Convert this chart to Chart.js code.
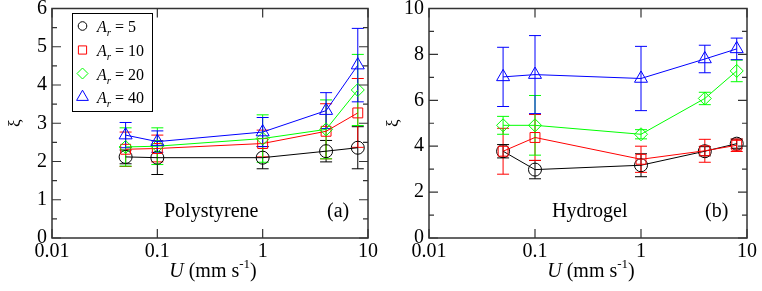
<!DOCTYPE html>
<html>
<head>
<meta charset="utf-8">
<script src="https://cdn.jsdelivr.net/npm/chart.js@4"></script>
<style>
  html, body { margin: 0; padding: 0; background: #fff; }
  #wrap { position: relative; width: 762px; height: 291px; }
  canvas { position: absolute; top: 0; }
</style>
</head>
<body>
<div id="wrap">
  <canvas id="panelA" width="381" height="291" style="left:0"></canvas>
  <canvas id="panelB" width="381" height="291" style="left:381px"></canvas>
</div>
<script>
// pulling speed U (mm/s), same for every series
const speeds = [0.05, 0.1, 1, 4, 8];
const aspectRatios = [5, 10, 20, 40];
const xTickValues = [0.01, 0.1, 1, 10];
const xTickLabels = ['0.01', '0.1', '1', '10'];
const polyTicksY = [0, 1, 2, 3, 4, 5, 6];
const hydroTicksY = [0, 2, 4, 6, 8, 10];

// polystyrene, one row per A_r (5, 10, 20, 40)
const polyXi = [
  [2.12, 2.10, 2.10, 2.27, 2.36],
  [2.32, 2.34, 2.47, 2.79, 3.27],
  [2.38, 2.40, 2.60, 2.84, 3.87],
  [2.69, 2.52, 2.77, 3.33, 4.52]
];
const polyErr = [
  [0.18, 0.44, 0.29, 0.28, 0.55],
  [0.45, 0.35, 0.35, 0.72, 0.90],
  [0.50, 0.48, 0.62, 0.77, 0.93],
  [0.33, 0.28, 0.38, 0.47, 0.96]
];

// hydrogel
const hydroXi = [
  [3.78, 2.98, 3.17, 3.78, 4.11],
  [3.78, 4.38, 3.43, 3.80, 4.04],
  [4.91, 4.91, 4.52, 6.08, 7.28],
  [7.02, 7.12, 6.95, 7.80, 8.24]
];
const hydroErr = [
  [0.29, 0.40, 0.50, 0.20, 0.20],
  [1.00, 1.00, 0.57, 0.50, 0.27],
  [0.39, 1.30, 0.20, 0.27, 0.47],
  [1.29, 1.70, 1.40, 0.60, 0.47]
];

const colors = ['#000000', '#ff0000', '#00ff00', '#0000ff'];
const markers = ['circle', 'rect', 'rectRot', 'triangle'];
const markerSize = [6.5, 7, 6.5, 7.5];
const legendSize = [4.3, 5.8, 5.5, 6.8];

const SERIF = '"Liberation Serif", "DejaVu Serif", serif';

function point(ctx, style, r, x, y) {
  ctx.fillStyle = 'rgba(0,0,0,0)';
  if (Chart.helpers && Chart.helpers.drawPoint) {
    Chart.helpers.drawPoint(ctx, {pointStyle: style, radius: r, rotation: 0, borderWidth: 1}, x, y);
  } else {
    ctx.beginPath();
    ctx.arc(x, y, r, 0, Math.PI * 2);
    ctx.stroke();
  }
}

const decor = {
  id: 'decor',
  beforeDatasetsDraw(chart, args, o) {
    const {ctx, scales: {x, y}} = chart;
    ctx.save();
    ctx.lineWidth = 1;
    o.err.forEach((row, i) => {
      ctx.strokeStyle = colors[i];
      ctx.beginPath();
      row.forEach((e, j) => {
        const px = x.getPixelForValue(speeds[j]);
        const m = o.xi[i][j];
        const top = y.getPixelForValue(m + e);
        const bot = y.getPixelForValue(m - e);
        ctx.moveTo(px, top); ctx.lineTo(px, bot);
        ctx.moveTo(px - 6, top); ctx.lineTo(px + 6, top);
        ctx.moveTo(px - 6, bot); ctx.lineTo(px + 6, bot);
      });
      ctx.stroke();
    });
    ctx.restore();
  },
  afterDraw(chart, args, o) {
    const {ctx, chartArea: a, scales: {x, y}} = chart;
    ctx.save();

    // frame + inward ticks on all sides
    ctx.strokeStyle = '#333';
    ctx.lineWidth = 1.5;
    ctx.strokeRect(a.left, a.top, a.right - a.left, a.bottom - a.top);
    ctx.lineWidth = 1.2;
    ctx.beginPath();
    xTickValues.forEach(v => {
      const px = x.getPixelForValue(v);
      ctx.moveTo(px, a.bottom); ctx.lineTo(px, a.bottom - 9);
      ctx.moveTo(px, a.top); ctx.lineTo(px, a.top + 9);
    });
    o.yTicks.forEach((v, k) => {
      const py = y.getPixelForValue(v);
      ctx.moveTo(a.left, py); ctx.lineTo(a.left + 9, py);
      ctx.moveTo(a.right, py); ctx.lineTo(a.right - 9, py);
      if (k > 0) {
        const pm = y.getPixelForValue((v + o.yTicks[k - 1]) / 2);
        ctx.moveTo(a.left, pm); ctx.lineTo(a.left + 5, pm);
        ctx.moveTo(a.right, pm); ctx.lineTo(a.right - 5, pm);
      }
    });
    ctx.stroke();

    // tick labels
    ctx.fillStyle = '#000';
    ctx.font = '20px ' + SERIF;
    ctx.textAlign = 'right';
    ctx.textBaseline = 'middle';
    o.yTicks.forEach(v => ctx.fillText(String(v), a.left - 5, y.getPixelForValue(v)));
    ctx.textAlign = 'center';
    ctx.textBaseline = 'alphabetic';
    xTickValues.forEach((v, k) => ctx.fillText(xTickLabels[k], x.getPixelForValue(v), 257));

    // y title
    ctx.save();
    ctx.translate(o.xiX, (a.top + a.bottom) / 2);
    ctx.rotate(-Math.PI / 2);
    ctx.font = '17px ' + SERIF;
    ctx.textBaseline = 'middle';
    ctx.fillText('ξ', 0, 0);
    ctx.restore();

    // x title: U (mm s^-1)
    ctx.textAlign = 'left';
    const parts = [
      {t: 'U', f: 'italic 20px ' + SERIF, dy: 0},
      {t: ' (mm s', f: '20px ' + SERIF, dy: 0},
      {t: '-1', f: '13px ' + SERIF, dy: -9},
      {t: ')', f: '20px ' + SERIF, dy: 0}
    ];
    let w = 0;
    parts.forEach(p => { ctx.font = p.f; w += ctx.measureText(p.t).width; });
    let cx = (a.left + a.right) / 2 + 3 - w / 2;
    parts.forEach(p => {
      ctx.font = p.f;
      ctx.fillText(p.t, cx, 277 + p.dy);
      cx += ctx.measureText(p.t).width;
    });

    // material name and panel tag
    ctx.font = '20px ' + SERIF;
    ctx.fillText(o.name, o.nameX, 217);
    ctx.fillText(o.tag, o.tagX, 217);

    if (o.legend) {
      ctx.strokeStyle = '#000';
      ctx.lineWidth = 1;
      ctx.strokeRect(72.5, 13.5, 80, 98);
      const rows = [26, 50, 73.5, 97];
      aspectRatios.forEach((ar, i) => {
        ctx.strokeStyle = colors[i];
        point(ctx, markers[i], legendSize[i], 82.5, rows[i]);
        ctx.fillStyle = '#000';
        let tx = 97;
        ctx.font = 'italic 16px ' + SERIF;
        ctx.fillText('A', tx, rows[i] + 6);
        tx += ctx.measureText('A').width;
        ctx.font = 'italic 11px ' + SERIF;
        ctx.fillText('r', tx, rows[i] + 10);
        tx += ctx.measureText('r').width;
        ctx.font = '16px ' + SERIF;
        ctx.fillText(' = ' + ar, tx, rows[i] + 6);
      });
    }
    ctx.restore();
  }
};

function makePanel(id, xi, err, yTicks, padRight, leftW, extra) {
  const ctx = document.getElementById(id);
  return new Chart(ctx, {
    type: 'scatter',
    data: {
      datasets: xi.map((row, i) => ({
        label: 'A_r = ' + aspectRatios[i],
        data: row.map((v, j) => ({x: speeds[j], y: v})),
        showLine: true,
        borderColor: colors[i],
        borderWidth: 1,
        backgroundColor: 'rgba(0,0,0,0)',
        pointStyle: markers[i],
        pointRadius: markerSize[i],
        pointHoverRadius: markerSize[i],
        pointBorderWidth: 1,
        pointBorderColor: colors[i],
        pointBackgroundColor: 'rgba(0,0,0,0)',
        order: 4 - i
      }))
    },
    options: {
      responsive: false,
      animation: false,
      devicePixelRatio: 1,
      events: [],
      layout: {padding: {top: 8, right: padRight, left: 0, bottom: 0}},
      scales: {
        x: {
          type: 'logarithmic', min: 0.01, max: 10,
          ticks: {display: false}, grid: {display: false}, border: {display: false},
          afterFit: s => { s.height = 53; }
        },
        y: {
          min: yTicks[0], max: yTicks[yTicks.length - 1],
          ticks: {display: false}, grid: {display: false}, border: {display: false},
          afterFit: s => { s.width = leftW; }
        }
      },
      plugins: {
        legend: {display: false},
        tooltip: {enabled: false},
        decor: Object.assign({xi: xi, err: err, yTicks: yTicks}, extra)
      }
    },
    plugins: [decor]
  });
}

makePanel('panelA', polyXi, polyErr, polyTicksY, 13, 52,
  {xiX: 16, name: 'Polystyrene', nameX: 164, tag: '(a)', tagX: 327, legend: true});
makePanel('panelB', hydroXi, hydroErr, hydroTicksY, 15, 48,
  {xiX: 12.5, name: 'Hydrogel', nameX: 171, tag: '(b)', tagX: 324, legend: false});
</script>
</body>
</html>
